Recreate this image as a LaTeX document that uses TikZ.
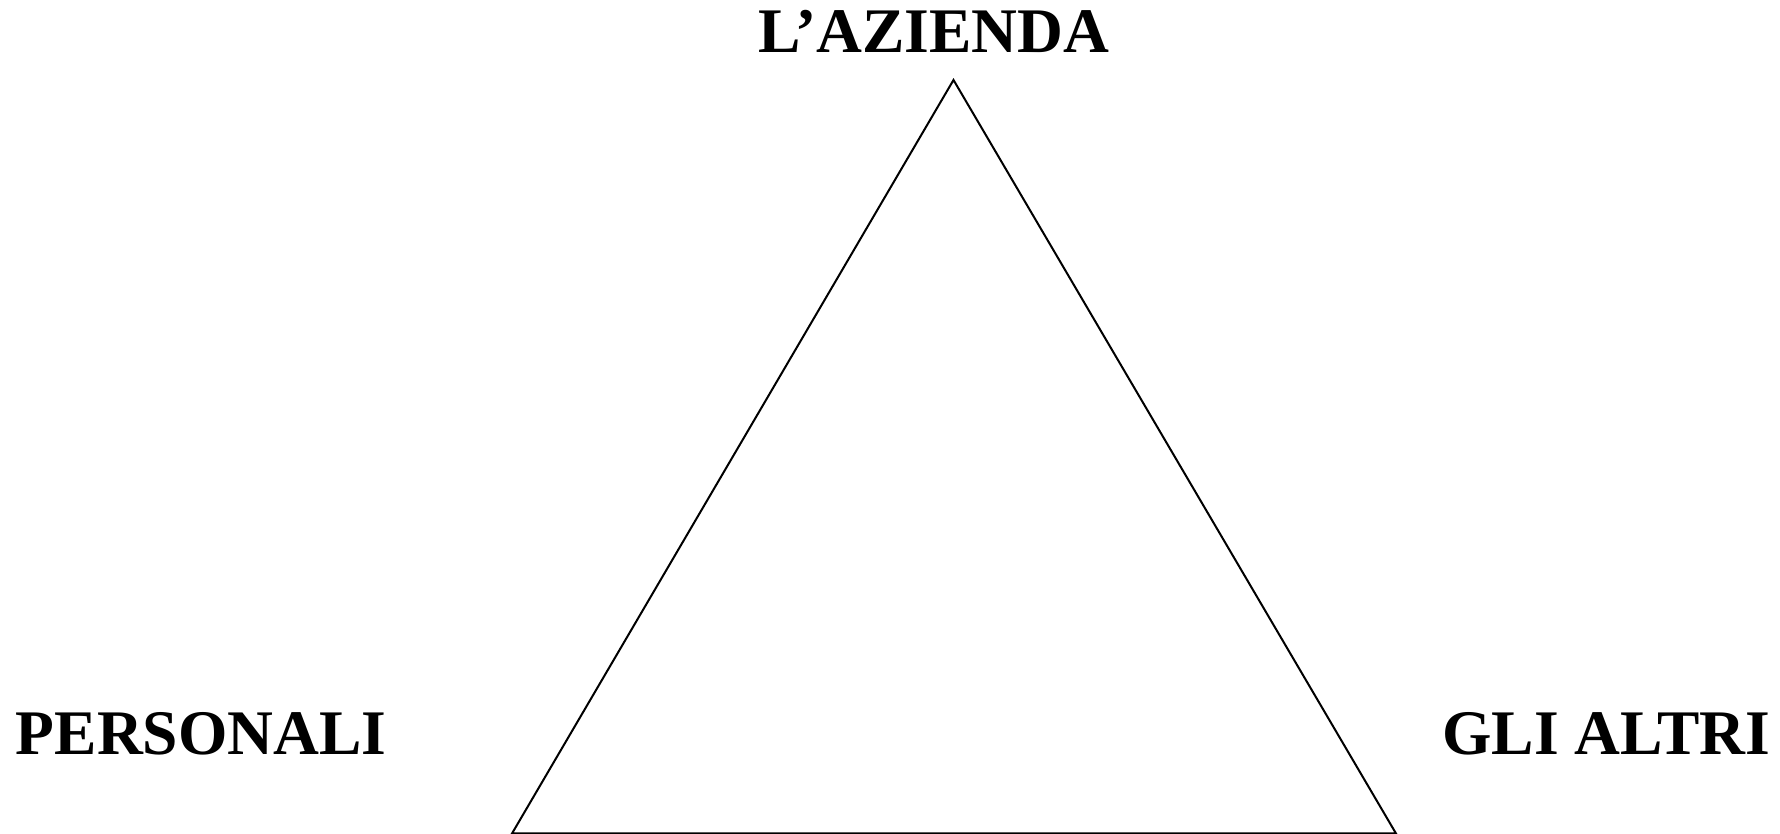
\documentclass[tikz,border=0pt]{standalone}
\usepackage{fontspec}
\setmainfont{Liberation Serif}
\begin{document}
\begin{tikzpicture}[x=1pt,y=1pt,
  lbl/.style={font=\fontsize{63.5}{70}\selectfont\bfseries, inner sep=0pt, outer sep=0pt},
  edge/.style={line width=2pt, line join=miter}]
\useasboundingbox (0,0) rectangle (1780,834);
\coordinate (top) at (953.5,754);
\coordinate (bl) at (512,0.5);
\coordinate (br) at (1396,0.5);
\draw[edge] (top) -- (br) -- (bl) -- cycle;
\node[lbl, anchor=base] (az) at (934,781) {L’AZIENDA};
\node[lbl, anchor=base west] (pers) at (16,79) {PERSONALI};
\node[lbl, anchor=base east] (altri) at (1770,79) {GLI ALTRI};
\end{tikzpicture}
\end{document}
